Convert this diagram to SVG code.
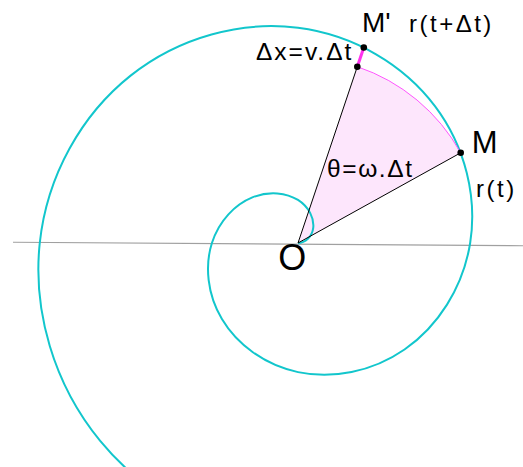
<svg xmlns="http://www.w3.org/2000/svg" width="523" height="467" viewBox="0 0 523 467">
<style>
  .t { font-family: "Liberation Sans", Arial, sans-serif; fill: #000; }
  .spiral { fill: none; stroke: #12c6cc; stroke-width: 2; }
  .ray { stroke: #000; stroke-width: 1; fill: none; }
  .dot { fill: #000; }
</style>
<rect width="523" height="467" fill="#fff"/>
<g id="axis">
  <line x1="13" y1="242.3" x2="523" y2="245.7" stroke="#a0a0a0" stroke-width="1.1"/>
</g>
<g id="sector">
  <path d="M298,243 L460.7,152.8 A186,186 0 0 0 357.3,66.7 Z" fill="#fde6fc"/>
</g>
<g id="spiral">
  <path class="spiral" d="M298,243 C305.17,243 312.13,236.84 313.22,227.78 C314.31,218.72 309.27,207.13 298,199.96 C286.73,192.79 269.37,190.47 252.35,197.35 C235.33,204.23 219.09,220.47 211.92,243 C204.75,265.54 207.07,294.09 221.92,319.08 C236.77,344.07 264.2,364.95 298,372.12 C331.8,379.29 371.56,372.33 404.52,349.52 C437.48,326.71 462.99,288.07 470.16,243 C477.33,197.93 465.73,146.97 434.95,106.05 C404.17,65.13 354.34,34.97 298,27.8 C241.66,20.63 179.51,36.87 130.62,75.62 C81.73,114.37 46.93,175.4 39.76,243 C32.59,310.6 53.47,383.96 100.18,440.82 C146.9,497.68 219.13,537.11 298,544.28"/>
</g>
<g id="connectors">
  <line class="ray" x1="298" y1="243" x2="460.7" y2="152.8"/>
  <line class="ray" x1="298" y1="243" x2="357.3" y2="66.7"/>
  <path d="M460.7,152.8 A186,186 0 0 0 357.3,66.7" fill="none" stroke="#ff55ff" stroke-width="1"/>
  <line x1="357.3" y1="66.7" x2="363.8" y2="47.5" stroke="#ff33ee" stroke-width="3"/>
</g>
<g id="node-M">
  <circle class="dot" cx="460.7" cy="152.8" r="3.3"/>
  <text class="t" x="471.7" y="153.3" font-size="31">M</text>
  <text class="t" x="476" y="197" font-size="24" letter-spacing="2.5">r(t)</text>
</g>
<g id="node-Mprime">
  <circle class="dot" cx="363.8" cy="47.5" r="3.3"/>
  <text class="t" x="362" y="31.7" font-size="28">M'</text>
  <text class="t" x="409" y="31.7" font-size="24" letter-spacing="2.5">r(t+Δt)</text>
</g>
<g id="node-P">
  <circle class="dot" cx="357.3" cy="66.7" r="3.3"/>
  <text class="t" x="256" y="60" font-size="24.5" letter-spacing="2">Δx=v.Δt</text>
</g>
<g id="node-O">
  <text class="t" x="278.3" y="270.3" font-size="36">O</text>
</g>
<g id="label-theta">
  <text class="t" x="327" y="176.7" font-size="24.5" letter-spacing="1.6">θ=ω.Δt</text>
</g>
</svg>
